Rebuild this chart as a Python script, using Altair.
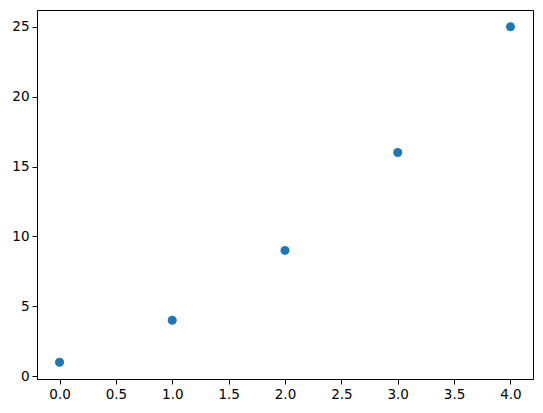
import altair as alt
import pandas as pd

xs = [0, 1, 2, 3, 4]
ys = [1, 4, 9, 16, 25]

df = pd.DataFrame({"x": xs, "y": ys})

chart = alt.Chart(df).mark_circle(size=82, color="#1f77b4", opacity=1).encode(
    x=alt.X("x:Q", scale=alt.Scale(domain=[-0.2, 4.2], nice=False, zero=False),
            axis=alt.Axis(values=[0, 0.5, 1, 1.5, 2, 2.5, 3, 3.5, 4], format=".1f", title=None)),
    y=alt.Y("y:Q", scale=alt.Scale(domain=[-0.2, 26.2], nice=False, zero=False),
            axis=alt.Axis(values=[0, 5, 10, 15, 20, 25], format="d", title=None)),
).properties(
    width=496, height=369,
    autosize=alt.AutoSizeParams(type="none"),
    padding={"left": 29, "top": 2, "right": 2, "bottom": 26},
).configure_view(
    stroke="black", strokeWidth=1
).configure_axis(
    grid=False, domainColor="black", tickColor="black", labelColor="black",
    tickSize=5, labelFont="DejaVu Sans", labelFontSize=13.5, labelPadding=3,
)

chart.save("out.html", embed_options={"renderer": "svg", "actions": False})
